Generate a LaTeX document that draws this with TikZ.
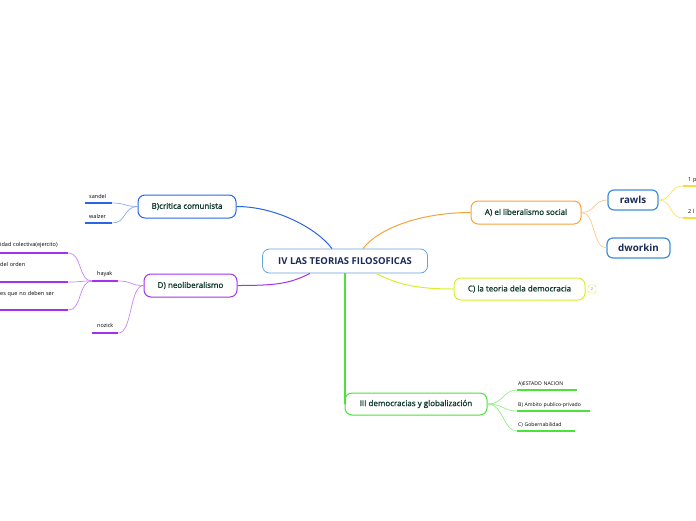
\documentclass[tikz,border=0pt]{standalone}
\usepackage{fontspec}
\setmainfont{Open Sans}
\newfontfamily\semifont[FakeBold=1.2]{Open Sans}
\definecolor{cblue}{HTML}{2A66E4}
\definecolor{cpurp}{HTML}{A431EE}
\definecolor{corng}{HTML}{F7A339}
\definecolor{cyel}{HTML}{D8F02C}
\definecolor{cgrn}{HTML}{4CE23C}
\definecolor{cmain}{HTML}{68A4D8}
\definecolor{cnavy}{HTML}{1B2B55}
\definecolor{ctxt}{HTML}{0F3A2C}
\definecolor{cpers}{HTML}{3F8FD6}
\definecolor{cgold}{HTML}{F6DC3C}
\begin{document}
\begin{tikzpicture}[x=1pt,y=-1pt,
topic/.style={draw,rounded corners=7pt,fill=white,line width=1pt,minimum height=23pt,inner sep=0,font=\semifont\fontsize{8}{9}\selectfont,text=ctxt},
person/.style={draw=cpers,rounded corners=6pt,fill=white,line width=1.2pt,minimum height=20pt,inner sep=0,font=\bfseries\fontsize{9.8}{10}\selectfont,text=cnavy},
leaf/.style={anchor=south west,inner xsep=4pt,inner ysep=2pt,text depth=2pt,align=left,font=\fontsize{5.5}{6}\selectfont,text=black},
ul/.style={line width=1.8pt},
link/.style={line width=0.7pt}]
\clip(0,0)rectangle(696,520);
\node[topic,draw=cmain,line width=0.8pt,minimum width=165pt,minimum height=24pt,text=cnavy,font=\bfseries\fontsize{9.5}{10}\selectfont](root)at(345,261){IV LAS TEORIAS FILOSOFICAS};
\node[topic,draw=cblue,minimum width=98pt](crit)at(187,206.5){B)critica comunista};
\node[topic,draw=cpurp,minimum width=93pt](neo)at(190.5,285.5){D) neoliberalismo};
\node[topic,draw=corng,minimum width=110pt](lib)at(526,212.5){A) el liberalismo social};
\node[topic,draw=cyel,minimum width=131pt,minimum height=22pt](dem)at(519.5,289){C) la teoria dela democracia};
\node[topic,draw=cgrn,minimum width=142pt,minimum height=22pt](glob)at(416,404){III democracias y globalización};
\node[draw=cyel,rounded corners=1.5pt,minimum width=8pt,minimum height=8pt,inner sep=0,font=\fontsize{4}{4}\selectfont,text=gray](cnt)at(592,289){2};
\node[person,minimum width=50pt](rawls)at(633,200){rawls};
\node[person,minimum width=63pt](dwork)at(638.5,248){dworkin};
\draw[cblue,line width=1pt]([xshift=-13pt]root.north)..controls+(-15,-20)and+(40,0)..(crit.east);
\draw[corng,line width=1pt]([xshift=18pt]root.north)..controls+(15,-20)and+(-50,0)..(lib.west);
\draw[cpurp,line width=1pt]([xshift=-35pt]root.south)..controls+(-20,10)and+(40,0)..(neo.east);
\draw[cyel,line width=1pt]([xshift=31pt]root.south)..controls+(20,10)and+(-40,0)..(dem.west);
\draw[cgrn,line width=1.3pt](root.south)|-(glob.west);
\foreach \t/\y/\n in {sandel/203/s1,walzer/223/s2}{\node[leaf,text width=19pt](\n)at(85,\y){\t};
\draw[ul,cblue](\n.south west)--(\n.south east);\draw[link,cblue!55](crit.west)..controls+(-14,0)and+(14,0)..(\n.south east);}
\foreach \t/\y/\n in {hayak/281/hay,nozick/333/noz}{\node[leaf,inner xsep=5pt,text depth=3pt,text width=16pt](\n)at(92,\y){\t};
\draw[ul,cpurp](\n.south west)--(\n.south east);\draw[link,cpurp!60](neo.west)..controls+(-14,0)and+(14,0)..(\n.south east);}
\foreach \t/\y/\d/\n in {idad colectiva(ejercito)/253/4/h1,del orden/282/13/h2,es que no deben ser/310/12/h3}{\node[leaf,inner xsep=0,text depth=\d pt,text width=68pt](\n)at(0,\y){\t};
\draw[ul,cpurp](\n.south west)--(\n.south east);\draw[link,cpurp!60](hay.south west)..controls+(-14,0)and+(14,0)..(\n.south east);}
\draw[link,corng!60](lib.east)..controls+(14,0)and+(-14,0)..(rawls.west);
\draw[link,corng!60](lib.east)..controls+(14,0)and+(-14,0)..(dwork.west);
\foreach \t/\y/\n in {1 p/186/r1,2 l/218/r2}{\node[leaf,inner xsep=5pt,text width=20pt](\n)at(683,\y){\t};
\draw[ul,cgold](\n.south west)--(\n.south east);\draw[link,cgold!80](rawls.east)..controls+(14,0)and+(-14,0)..(\n.south west);}
\foreach \t/\y/\w/\n in {A)ESTADO NACION/390/58/e1,B) Ambito publico-privado/411/71/e2,C) Gobernabilidad/431/56/e3}{\node[leaf,inner xsep=1pt,text depth=2.5pt,text width=\w pt,font=\fontsize{5.1}{6}\selectfont](\n)at(517,\y){\t};
\draw[ul,cgrn](\n.south west)--(\n.south east);\draw[link,cgrn!60](glob.east)..controls+(16,0)and+(-14,0)..(\n.south west);}
\end{tikzpicture}
\end{document}
